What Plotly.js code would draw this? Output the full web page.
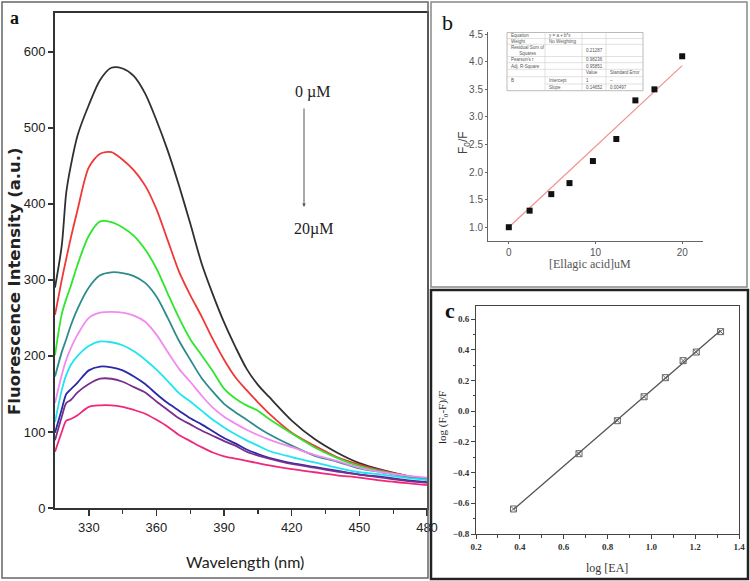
<!DOCTYPE html>
<html><head><meta charset="utf-8">
<script src="https://cdn.plot.ly/plotly-3.0.1.min.js"></script>
<style>html,body{margin:0;padding:0;background:#fff}#chart{width:750px;height:581px}</style>
</head><body><div id="chart"></div>
<script>
// ---------- Panel a : fluorescence spectra ----------
const wavelength = [315,318,320,322,325,330,335,340,345,350,355,360,365,370,375,380,385,390,395,400,405,410,420,430,440,450,460,470,480];
const spec0   = [290,345,415,450,490,530,563,579,578,568,545,510,470,424,374,322,281,244,212,183,162,146,115,91,73,59,50,43,38];
const spec2_5 = [254,300,328,355,392,448,466,468,458,444,424,393,352,311,280,252,222,195,172,155,139,124,99,82,67,57,49,43,37];
const spec5   = [201,255,275,292,320,358,377,376,369,358,340,315,282,250,222,201,180,157,144,135,128,117,98,80,66,55,48,42,38];
const spec7_5 = [173,205,222,240,262,290,306,310,309,305,296,278,250,220,195,171,153,137,126,116,106,97,82,69,61,52,47,42,38];
const spec10  = [138,175,195,210,228,250,257,258,257,253,245,228,205,183,166,148,132,120,111,103,96,90,80,70,62,53,47,43,40];
const spec12_5= [113,155,175,188,200,213,219,218,214,206,195,182,167,151,140,128,116,106,97,89,82,75,67,60,53,47,44,40,37];
const spec15  = [99,130,150,156,165,181,186,185,181,173,163,150,138,128,118,110,101,92,85,77,71,66,59,54,49,44,41,37,34];
const spec17_5= [89,120,138,142,152,163,170,170,166,159,152,140,129,118,110,102,95,88,82,74,69,65,58,53,48,44,40,36,33];
const spec20  = [74,100,115,117,122,133,135,135,133,129,124,116,107,96,88,80,73,68,65,62,59,56,51,47,43,40,36,33,30];
const spectraNames = ['0 µM','2.5 µM','5 µM','7.5 µM','10 µM','12.5 µM','15 µM','17.5 µM','20 µM'];
const wlTicks = [330,360,390,420,450,480];
const intensityTicks = [0,100,200,300,400,500,600];

// ---------- Panel b : Stern-Volmer ----------
const eaConc = [0,2.4,4.9,7.0,9.7,12.4,14.6,16.8,20.0];
const f0OverF = [1.0,1.3,1.6,1.8,2.2,2.6,3.3,3.5,4.1];
const fitIntercept = 1;
const fitSlope = 0.14652;
const fitRange = [0, 20];
const svXTicks = [0,10,20];
const tableRows = [
  ['Equation','y = a + b*x','',''],
  ['Weight','No Weighting','',''],
  ['Residual Sum of<br>Squares','','0.21287',''],
  ["Pearson's r",'','0.98236',''],
  ['Adj. R-Square','','0.95851',''],
  ['','','Value','Standard Error'],
  ['B','Intercept','1','–'],
  ['','Slope','0.14652','0.00497']
];

// ---------- Panel c : double log ----------
const logEA = [0.371,0.670,0.845,0.967,1.064,1.145,1.205,1.316];
const logQ  = [-0.637,-0.277,-0.062,0.094,0.218,0.329,0.385,0.518];

// ---------- helpers ----------
const W = 750, H = 581;
const px = v => v / W;
const py = v => 1 - v / H;

const spectra = [spec0,spec2_5,spec5,spec7_5,spec10,spec12_5,spec15,spec17_5,spec20];
const colors = ['#303030','#f03838','#2ee62e','#2e8c8c','#f08cf0','#22e4f0','#2a2aa8','#7a2e8c','#f0287a'];

const traces = [];
spectra.forEach((s, i) => {
  traces.push({x: wavelength, y: s, name: spectraNames[i], type: 'scatter', mode: 'lines',
    line: {color: colors[i], width: 1.8, shape: 'spline', smoothing: 0.8},
    xaxis: 'x', yaxis: 'y', hoverinfo: 'skip'});
});

// panel b
traces.push({x: fitRange, y: fitRange.map(v => fitIntercept + fitSlope * v), type: 'scatter', mode: 'lines',
  line: {color: '#f29090', width: 1.2}, xaxis: 'x2', yaxis: 'y2'});
traces.push({x: eaConc, y: f0OverF, type: 'scatter', mode: 'markers',
  marker: {symbol: 'square', size: 6, color: '#111'}, xaxis: 'x2', yaxis: 'y2'});

// panel c: least-squares line from data
(function(){
  const n = logEA.length;
  const mx = logEA.reduce((a,b)=>a+b,0)/n, my = logQ.reduce((a,b)=>a+b,0)/n;
  let sxy=0, sxx=0;
  for (let i=0;i<n;i++){ sxy += (logEA[i]-mx)*(logQ[i]-my); sxx += (logEA[i]-mx)**2; }
  const b = sxy/sxx, a = my - b*mx;
  const xe = [logEA[0], logEA[n-1]];
  traces.push({x: xe, y: xe.map(v => a + b*v), type:'scatter', mode:'lines',
    line:{color:'#555', width:1.3}, xaxis:'x3', yaxis:'y3'});
})();
traces.push({x: logEA, y: logQ, type:'scatter', mode:'markers',
  marker:{symbol:'square-x-open', size:6, color:'#666', line:{width:1, color:'#666'}}, xaxis:'x3', yaxis:'y3'});

const narrow = 'Liberation Sans Narrow, Arial Narrow, Liberation Sans, sans-serif';
const serif = 'Liberation Serif, Times New Roman, serif';

const layout = {
  width: W, height: H, margin: {l:0, r:0, t:0, b:0},
  paper_bgcolor: '#fff', plot_bgcolor: '#fff', showlegend: false,
  xaxis: {domain: [px(55), px(427)], anchor: 'y', range: [315, 480], tickmode: 'array', tickvals: wlTicks,
    ticks: 'outside', ticklen: 6, tickwidth: 1.5, tickcolor: '#333', showline: true, linewidth: 2, linecolor: '#333',
    mirror: true, showgrid: false, zeroline: false,
    minor: {tickvals: [345,375,405,435,465], ticks: 'outside', ticklen: 4, tickwidth: 1.2, tickcolor: '#333'},
    tickfont: {family: narrow, size: 13, color: '#222'}},
  yaxis: {domain: [py(508), py(13)], anchor: 'x', range: [0, 651], tickmode: 'array', tickvals: intensityTicks,
    ticks: 'outside', ticklen: 5, tickwidth: 1.5, tickcolor: '#333', showline: true, linewidth: 2, linecolor: '#333',
    mirror: true, showgrid: false, zeroline: false,
    tickfont: {family: narrow, size: 13, color: '#222'}},
  xaxis2: {domain: [px(488), px(703)], anchor: 'y2', range: [-2.4, 22.4], tickmode: 'array', tickvals: svXTicks,
    ticks: 'outside', ticklen: 2, tickcolor: '#666', showline: true, linewidth: 1, linecolor: '#666',
    showgrid: false, zeroline: false, tickfont: {family: 'Liberation Sans, Arial, sans-serif', size: 10, color: '#555'}},
  yaxis2: {domain: [py(241), py(32)], anchor: 'x2', range: [0.75, 4.54], tick0: 1, dtick: 0.5, tickformat: '.1f',
    ticks: 'outside', ticklen: 2, tickcolor: '#666', showline: true, linewidth: 1, linecolor: '#666',
    showgrid: false, zeroline: false, tickfont: {family: 'Liberation Sans, Arial, sans-serif', size: 10, color: '#555'}},
  xaxis3: {domain: [px(476), px(739)], anchor: 'y3', range: [0.2, 1.4], tick0: 0.2, dtick: 0.2, tickformat: '.1f',
    ticks: 'outside', ticklen: 4, tickcolor: '#444', showline: true, linewidth: 1, linecolor: '#444', mirror: true,
    minor: {dtick: 0.1, ticks: 'outside', ticklen: 2.5, tickcolor: '#444'},
    showgrid: false, zeroline: false, tickfont: {family: serif, size: 9, color: '#333', weight: 'bold'}},
  yaxis3: {domain: [py(534), py(306)], anchor: 'x3', range: [-0.8, 0.685], tick0: -0.8, dtick: 0.2, tickformat: '.1f',
    ticks: 'outside', ticklen: 4, tickcolor: '#444', showline: true, linewidth: 1, linecolor: '#444', mirror: true,
    minor: {dtick: 0.1, ticks: 'outside', ticklen: 2.5, tickcolor: '#444'},
    showgrid: false, zeroline: false, tickfont: {family: serif, size: 9, color: '#333', weight: 'bold'}},
  shapes: [], annotations: []
};

// panel borders
layout.shapes.push({type:'rect', xref:'paper', yref:'paper', x0:px(2), x1:px(428), y0:py(578), y1:py(2), line:{color:'#666', width:1.5}});
layout.shapes.push({type:'rect', xref:'paper', yref:'paper', x0:px(431), x1:px(747), y0:py(287), y1:py(2), line:{color:'#888', width:1.5}});
layout.shapes.push({type:'rect', xref:'paper', yref:'paper', x0:px(431), x1:px(748), y0:py(579), y1:py(290), line:{color:'#222', width:2.5}});

// text helper (centered on a pixel position)
const A = layout.annotations;
const ann = (x, y, text, font, extra) => A.push(Object.assign({xref:'paper', yref:'paper', x:px(x), y:py(y), text, showarrow:false,
  xanchor:'center', yanchor:'middle', font}, extra||{}));

// panel a texts
ann(14, 18, 'a', {family: serif, size: 18, color:'#111', weight:'bold'});
ann(14, 281, 'Fluorescence Intensity (a.u.)', {family:'DejaVu Sans, sans-serif', size:16.5, color:'#222', weight:'bold'}, {textangle:-90});
ann(245, 561, 'Wavelength (nm)', {family:'Lato, Open Sans, sans-serif', size:16, color:'#222'});
ann(312, 92, '0 µM', {family: serif, size: 16, color:'#222'});
ann(313, 229, '20µM', {family: serif, size: 16, color:'#222'});
A.push({xref:'paper', yref:'paper', x:px(304), y:py(207), ax:0, ay:-100, axref:'pixel', ayref:'pixel', text:'', showarrow:true,
  arrowhead:2, arrowsize:0.7, arrowwidth:1, arrowcolor:'#555', standoff:0});

// panel b texts
ann(447, 23, 'b', {family: serif, size: 22, color:'#111'});
ann(464, 143, 'F<sub>0</sub>/F', {family:'Liberation Sans, Arial, sans-serif', size:12, color:'#444'}, {textangle:-90});
ann(590, 264, '[Ellagic acid]uM', {family: serif, size: 12, color:'#555'});

// inset table of panel b
const tCols = [507, 545, 582, 606, 643];
const tRows = [32.5, 38.5, 44.3, 56.5, 62.7, 69.3, 76.7, 84, 90.7];
layout.shapes.push({type:'rect', xref:'paper', yref:'paper', x0:px(tCols[0]), x1:px(tCols[4]), y0:py(tRows[8]), y1:py(tRows[0]), fillcolor:'#fff', line:{color:'#aaa', width:0.8}});
for (let r=1; r<tRows.length-1; r++) {
  const x0 = (r === 7) ? tCols[1] : tCols[0];
  layout.shapes.push({type:'line', xref:'paper', yref:'paper', x0:px(x0), x1:px(tCols[4]), y0:py(tRows[r]), y1:py(tRows[r]), line:{color:'#ccc', width:0.6}});
}
for (let c=1; c<4; c++) {
  layout.shapes.push({type:'line', xref:'paper', yref:'paper', x0:px(tCols[c]), x1:px(tCols[c]), y0:py(tRows[8]), y1:py(tRows[0]), line:{color:'#ccc', width:0.6}});
}
const tFont = {family:'Liberation Sans, Arial, sans-serif', size:4.5, color:'#555'};
tableRows.forEach((row, r) => {
  const yc = (tRows[r] + tRows[r+1]) / 2;
  row.forEach((txt, c) => {
    if (!txt) return;
    A.push({xref:'paper', yref:'paper', x:px(tCols[c] + 1.5), y:py(yc), text:txt, showarrow:false, xanchor:'left', yanchor:'middle', font:tFont});
  });
});

// panel c texts
ann(450, 310, 'c', {family: serif, size: 22, color:'#111', weight:'bold'});
ann(443, 418, 'log (F<sub>o</sub>-F)/F', {family: serif, size: 11, color:'#222'}, {textangle:-90});
ann(607, 568, 'log [EA]', {family: serif, size: 12, color:'#333'});

Plotly.newPlot('chart', traces, layout, {staticPlot: true, displayModeBar: false});
</script>
</body></html>
